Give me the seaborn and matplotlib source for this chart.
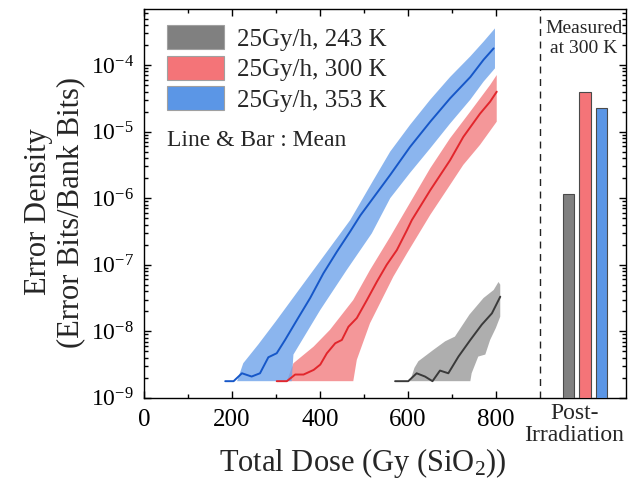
import numpy as np
import matplotlib
matplotlib.use("Agg")
import matplotlib.pyplot as plt
import matplotlib.transforms as mtransforms
from matplotlib.patches import Patch
from matplotlib.ticker import FixedLocator, LogLocator, NullFormatter
import seaborn as sns

# ---------------- data ----------------
series_labels = ["25Gy/h, 243 K", "25Gy/h, 300 K", "25Gy/h, 353 K"]

# 353 K (blue)
blue_dose = [185, 204, 223, 245, 264, 283, 302, 321, 348, 378, 408, 439, 469, 492,
             560, 605, 651, 696, 742, 772, 795]
blue_mean = [1.78e-9, 1.78e-9, 2.34e-9, 2.09e-9, 2.34e-9, 4.07e-9, 4.68e-9, 7.41e-9,
             1.48e-8, 3.16e-8, 7.41e-8, 1.58e-7, 3.16e-7, 5.5e-7, 2.24e-6, 5.89e-6,
             1.41e-5, 3.16e-5, 6.61e-5, 1.20e-4, 1.78e-4]
blue_up_dose = [185, 212, 226, 260, 300, 350, 400, 469, 520, 560, 605, 651, 696, 742, 772, 798]
blue_up = [1.78e-9, 1.78e-9, 3.31e-9, 6.31e-9, 1.41e-8, 3.98e-8, 1.12e-7, 4.68e-7,
           1.78e-6, 5.01e-6, 1.26e-5, 3.02e-5, 6.61e-5, 1.35e-4, 2.24e-4, 3.55e-4]
blue_lo_dose = [798, 772, 742, 696, 651, 605, 560, 518, 461, 401, 340, 336, 185]
blue_lo = [8.91e-5, 5.62e-5, 3.02e-5, 1.32e-5, 5.62e-6, 2.40e-6, 1.0e-6, 2.95e-7,
           8.32e-8, 2.09e-8, 4.47e-9, 1.78e-9, 1.78e-9]

# 300 K (red)
red_dose = [302, 325, 344, 363, 386, 401, 416, 435, 450, 465, 484, 507, 530, 552,
            575, 598, 609, 651, 696, 726, 764, 787, 802]
red_mean = [1.78e-9, 1.78e-9, 2.24e-9, 2.24e-9, 2.63e-9, 3.16e-9, 4.68e-9, 6.61e-9,
            7.41e-9, 1.17e-8, 1.58e-8, 2.95e-8, 5.62e-8, 1.0e-7, 1.66e-7, 3.31e-7,
            4.68e-7, 1.32e-6, 3.72e-6, 8.32e-6, 1.86e-5, 2.82e-5, 3.98e-5]
red_up_dose = [325, 340, 386, 423, 476, 514, 560, 582, 651, 696, 742, 787, 802]
red_up = [1.78e-9, 3.31e-9, 5.89e-9, 1.05e-8, 2.95e-8, 8.32e-8, 2.63e-7, 4.68e-7,
          2.82e-6, 7.94e-6, 2.0e-5, 5.01e-5, 7.08e-5]
red_lo_dose = [802, 764, 726, 696, 651, 598, 567, 514, 484, 476, 302]
red_lo = [1.41e-5, 6.31e-6, 3.16e-6, 1.58e-6, 5.62e-7, 1.48e-7, 6.61e-8, 1.32e-8,
          3.72e-9, 1.78e-9, 1.78e-9]

# 243 K (gray)
gray_dose = [571, 601, 620, 639, 656, 673, 692, 715, 742, 768, 791, 810]
gray_mean = [1.78e-9, 1.78e-9, 2.34e-9, 2.09e-9, 1.78e-9, 2.57e-9, 2.34e-9, 4.17e-9,
             7.41e-9, 1.26e-8, 1.86e-8, 3.31e-8]
gray_up_dose = [571, 605, 615, 624, 658, 685, 707, 740, 772, 795, 806, 810]
gray_up = [1.78e-9, 1.78e-9, 2.82e-9, 3.55e-9, 5.25e-9, 7.08e-9, 8.32e-9, 1.78e-8,
           3.16e-8, 4.17e-8, 5.5e-8, 5.01e-8]
gray_lo_dose = [810, 800, 787, 776, 760, 745, 742, 571]
gray_lo = [1.66e-8, 1.12e-8, 7.41e-9, 4.47e-9, 4.17e-9, 2.34e-9, 1.78e-9, 1.78e-9]

# post-irradiation bars (measured at 300 K)
bar_values = [1.15e-6, 4.0e-5, 2.3e-5]   # 243 K, 300 K, 353 K

x_ticks = [0, 200, 400, 600, 800]

# ---------------- style ----------------
sns.set_theme(style="ticks")
plt.rcParams["font.family"] = ["Liberation Serif", "DejaVu Serif"]
plt.rcParams["mathtext.fontset"] = "custom"
plt.rcParams["mathtext.rm"] = "Liberation Serif"
plt.rcParams["mathtext.it"] = "Liberation Serif:italic"
plt.rcParams["mathtext.bf"] = "Liberation Serif:bold"

band_colors = ["#9a9a9a", "#f27d80", "#6ea3ea"]
line_colors = ["#3a3a3a", "#e2262c", "#1657c8"]
patch_colors = ["#808080", "#f47478", "#5b96e6"]

fig = plt.figure(figsize=(6.28, 4.84), dpi=100)
ax = fig.add_axes([0.229, 0.178, 0.768, 0.803])
ax.set_yscale("log")

groups = [
    (gray_dose, gray_mean, gray_up_dose, gray_up, gray_lo_dose, gray_lo),
    (red_dose, red_mean, red_up_dose, red_up, red_lo_dose, red_lo),
    (blue_dose, blue_mean, blue_up_dose, blue_up, blue_lo_dose, blue_lo),
]
for i, (d, m, du, vu, dl, vl) in enumerate(groups):
    ax.fill(list(du) + list(dl), list(vu) + list(vl), color=band_colors[i],
            alpha=0.8, lw=0, zorder=2)
    sns.lineplot(x=d, y=m, ax=ax, color=line_colors[i], lw=1.4, zorder=3,
                 estimator=None, sort=False)

# bars
bar_center = 1003
bar_step = 37.5
bar_pos = [bar_center + (i - 1) * bar_step for i in range(len(bar_values))]
ax.bar(bar_pos, bar_values, width=26, bottom=1e-9, color=patch_colors,
       edgecolor="#4a4a4a", linewidth=0.8, zorder=3)

ax.axvline(900, color="#222222", lw=1.0, ls=(0, (5, 4)), zorder=1)

ax.set_xlim(0, 1096)
ax.set_ylim(1e-9, 6.9e-4)

ax.xaxis.set_major_locator(FixedLocator(x_ticks))
ax.xaxis.set_minor_locator(FixedLocator([100, 300, 500, 700]))
ax.set_xticklabels([str(t) for t in x_ticks])
ax.yaxis.set_major_locator(LogLocator(base=10, numticks=20))
ax.yaxis.set_minor_locator(LogLocator(base=10, subs=np.arange(2, 10), numticks=20))
ax.yaxis.set_minor_formatter(NullFormatter())

ax.tick_params(which="both", direction="in", top=True, right=True, colors="black",
               width=1.0)
ax.tick_params(which="major", length=5)
ax.tick_params(which="minor", length=3)
ax.tick_params(axis="x", labelsize=18, pad=8)
ax.tick_params(axis="y", labelsize=17, pad=7)
for s in ax.spines.values():
    s.set_color("black")
    s.set_linewidth(1.0)

ax.set_xlabel("Total Dose (Gy (SiO$_2$))", fontsize=22)
ax.xaxis.set_label_coords(0.455, -0.125)
ax.set_ylabel("Error Density\n(Error Bits/Bank Bits)", fontsize=22, linespacing=1.15)
ax.yaxis.set_label_coords(-0.122, 0.478)

# legend
handles = [Patch(facecolor=c, edgecolor="#a0a0a0", lw=0.8) for c in patch_colors]
ax.legend(handles, series_labels, loc="upper left",
          bbox_to_anchor=(23 / 482.3, 1 - 16 / 389), frameon=False, fontsize=18,
          handlelength=2.3, handleheight=1.1, handletextpad=0.5, labelspacing=0.2,
          borderpad=0, borderaxespad=0)
ax.text(23 / 482.3, 1 - 131 / 389, "Line & Bar : Mean", transform=ax.transAxes,
        fontsize=17, va="center", ha="left")

ax.text(1000, 1 - 11 / 389, "Measured\nat 300 K",
        transform=mtransforms.blended_transform_factory(ax.transData, ax.transAxes),
        fontsize=14, ha="center", va="top", linespacing=1.2)
ax.text(978, -5 / 389, "Post-\nIrradiation",
        transform=mtransforms.blended_transform_factory(ax.transData, ax.transAxes),
        fontsize=17, ha="center", va="top", linespacing=1.05)

fig.savefig("out.png", dpi=100)
